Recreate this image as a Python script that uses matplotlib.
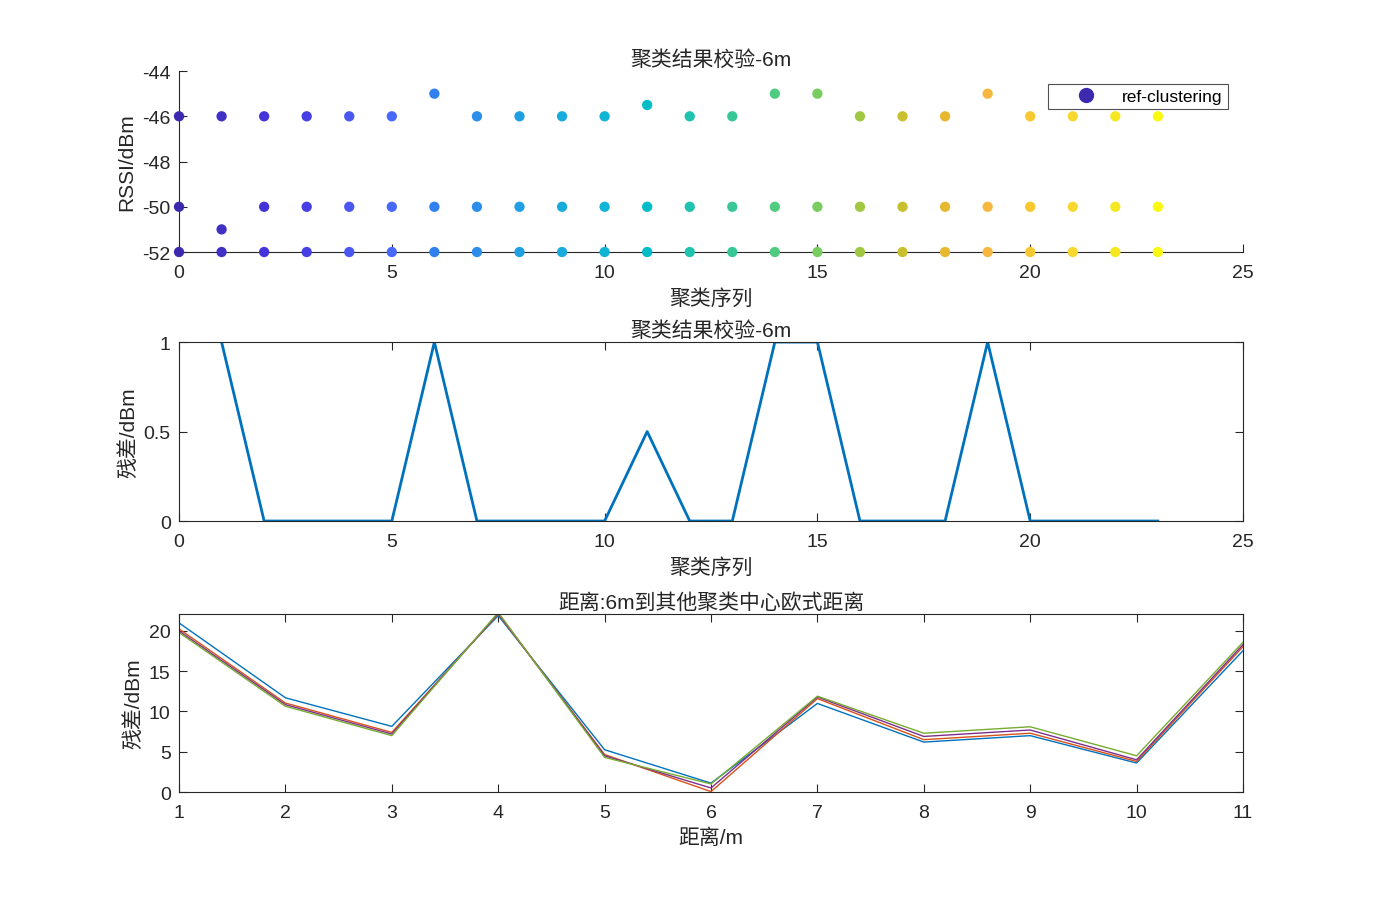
import matplotlib.pyplot as plt
import numpy as np
from matplotlib.lines import Line2D

plt.rcParams['font.family'] = ['Liberation Sans', 'Noto Sans CJK SC', 'DejaVu Sans']
plt.rcParams['axes.unicode_minus'] = False

TXT = '#262626'

# top: rssi per cluster index
cluster_idx = list(range(24))
rssi_high = [-46, -46, -46, -46, -46, -46, -45, -46, -46, -46, -46, -45.5,
             -46, -46, -45, -45, -46, -46, -46, -45, -46, -46, -46, -46]
rssi_mid = [-50, -51, -50, -50, -50, -50, -50, -50, -50, -50, -50, -50,
            -50, -50, -50, -50, -50, -50, -50, -50, -50, -50, -50, -50]
rssi_low = [-52] * 24

# middle: residual
resid_x = list(range(1, 24))
resid = [1, 0, 0, 0, 0, 1, 0, 0, 0, 0, 0.5, 0, 0, 1, 1, 0, 0, 0, 1, 0, 0, 0, 0]

# bottom: distance to other cluster centres
dist_m = list(range(1, 12))
dist_blue = [21.0, 11.7, 8.15, 21.9, 5.25, 1.1, 11.0, 6.2, 7.0, 3.6, 17.55]
dist_orange = [20.25, 11.05, 7.4, 22.1, 4.65, 0.05, 11.6, 6.5, 7.3, 3.8, 18.05]
dist_purple = [20.0, 10.85, 7.2, 22.2, 4.5, 0.5, 11.8, 6.9, 7.7, 4.0, 18.3]
dist_green = [19.8, 10.65, 7.0, 22.3, 4.3, 1.0, 11.9, 7.3, 8.1, 4.5, 18.6]

# parula-like colours, one per cluster index
dot_colors = ['#3C2AAE', '#4030C4', '#4433D8', '#4640E4', '#4A58F0', '#4868F8',
              '#3080F0', '#2A8EEA', '#229EE2', '#18ACDC', '#10B4D4', '#00BCC8',
              '#20C2B0', '#38C898', '#50CC80', '#78CC60', '#A0C840', '#C8C030',
              '#E6B830', '#F8B840', '#F8C830', '#F8D830', '#F5E820', '#F8F810']

fig = plt.figure(figsize=(13.75, 9.03), dpi=100)
ax1 = fig.add_axes([0.1302, 0.7198, 0.7738, 0.2004])
ax2 = fig.add_axes([0.1302, 0.4219, 0.7738, 0.1982])
ax3 = fig.add_axes([0.1302, 0.1218, 0.7738, 0.1971])

fs = 14
lfs = 15
for ax in (ax1, ax2, ax3):
    ax.tick_params(direction='in', labelsize=fs, colors=TXT, length=6, pad=6)
    ax.tick_params(axis='x', pad=8.5)
    for s in ax.spines.values():
        s.set_color(TXT)
        s.set_linewidth(0.8)

# top scatter
for row in (rssi_high, rssi_mid, rssi_low):
    ax1.scatter(cluster_idx, row, c=dot_colors, s=55, clip_on=False, zorder=3, linewidths=0)
ax1.set_xlim(0, 25)
ax1.set_ylim(-52, -44)
ax1.set_xticks([0, 5, 10, 15, 20, 25])
ax1.set_yticks([-52, -50, -48, -46, -44])
ax1.spines['top'].set_visible(False)
ax1.spines['right'].set_visible(False)
ax1.set_title('聚类结果校验-6m', fontsize=lfs, color=TXT, pad=4.5)
ax1.set_xlabel('聚类序列', fontsize=lfs, color=TXT, labelpad=5)
ax1.set_ylabel('RSSI/dBm', fontsize=lfs, color=TXT, labelpad=4)
h = Line2D([], [], ls='none', marker='o', ms=10, color=dot_colors[0])
leg = ax1.legend([h], ['ref-clustering'], loc='upper left', bbox_to_anchor=(0.8167, 0.93),
                 fontsize=12.5, frameon=True, fancybox=False, edgecolor=TXT,
                 handlelength=3.8, handletextpad=0.17, borderpad=0.3, borderaxespad=0)
leg.get_frame().set_linewidth(0.8)

# middle residual
ax2.plot(resid_x, resid, color='#0072BD', lw=2)
ax2.set_xlim(0, 25)
ax2.set_ylim(0, 1)
ax2.set_xticks([0, 5, 10, 15, 20, 25])
ax2.set_yticks([0, 0.5, 1])
ax2.set_yticklabels(['0', '0.5', '1'])
ax2.tick_params(top=True, right=True)
ax2.set_title('聚类结果校验-6m', fontsize=lfs, color=TXT, pad=4.5)
ax2.set_xlabel('聚类序列', fontsize=lfs, color=TXT, labelpad=5)
ax2.set_ylabel('残差/dBm', fontsize=lfs, color=TXT, labelpad=4)

# bottom distances
for vals, col in ((dist_blue, '#0072BD'), (dist_orange, '#D95319'),
                  (dist_purple, '#7E2F8E'), (dist_green, '#77AC30')):
    ax3.plot(dist_m, vals, color=col, lw=1)
ax3.set_xlim(1, 11)
ax3.set_ylim(0, 22.1)
ax3.set_xticks(dist_m)
ax3.set_yticks([0, 5, 10, 15, 20])
ax3.tick_params(top=True, right=True)
ax3.set_title('距离:6m到其他聚类中心欧式距离', fontsize=lfs, color=TXT, pad=4.5)
ax3.set_xlabel('距离/m', fontsize=lfs, color=TXT, labelpad=5)
ax3.set_ylabel('残差/dBm', fontsize=lfs, color=TXT, labelpad=4)

fig.savefig('out.png', dpi=100, facecolor='white')
